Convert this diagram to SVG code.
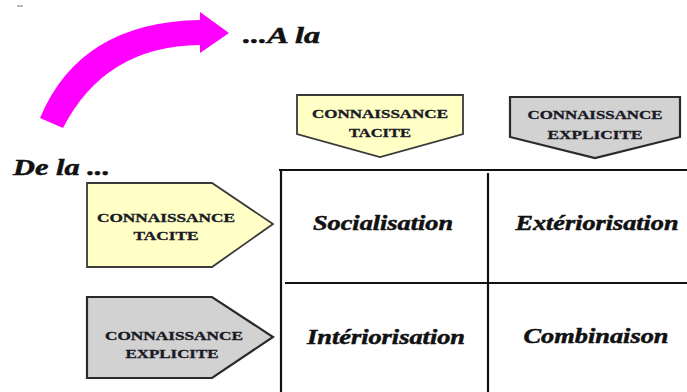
<svg xmlns="http://www.w3.org/2000/svg" width="687" height="392" viewBox="0 0 687 392">
  <style>
    text { font-family: "Liberation Serif", "DejaVu Serif", serif; font-weight: bold; }
    .lbl { font-size: 12.5px; fill: #1a1a26; stroke: #1a1a26; stroke-width: 0.35; text-anchor: middle; }
    .big { font-style: italic; fill: #111; stroke: #111; stroke-width: 0.5; }
    .cell { font-size: 21px; text-anchor: middle; }
    .tacit { fill: #ffffc6; stroke: #3a3a3a; stroke-width: 1.8; }
    .explicit { fill: #d2d2d2; stroke: #2a2a2a; stroke-width: 2.2; }
    .grid { stroke: #111; stroke-width: 2.2; fill: none; }
  </style>

  <!-- small dash mark -->
  <line x1="17" y1="6" x2="23" y2="6" stroke="#888" stroke-width="1.2"/>

  <!-- curved direction arrow -->
  <g id="arrow">
    <path d="M40,118 Q80,22 200,20 L200,12 L229,33 L200,53 L200,45 Q105,46 63,128 Z" fill="#ff00ff"/>
  </g>

  <text id="to-label" class="big" x="243" y="43" font-size="23" textLength="77" lengthAdjust="spacingAndGlyphs">...A la</text>
  <text id="from-label" class="big" x="13" y="175" font-size="23" textLength="97" lengthAdjust="spacingAndGlyphs">De la ...</text>

  <!-- column headers -->
  <g id="col-tacit">
    <polygon class="tacit" points="297,95 463,95 463,134 380,157 297,134"/>
    <text class="lbl" x="380" y="118" textLength="136" lengthAdjust="spacingAndGlyphs">CONNAISSANCE</text>
    <text class="lbl" x="380" y="137" textLength="62" lengthAdjust="spacingAndGlyphs">TACITE</text>
  </g>
  <g id="col-explicit">
    <polygon class="explicit" points="510,97 680,97 680,137 595,158 510,137"/>
    <text class="lbl" x="595" y="119" textLength="135" lengthAdjust="spacingAndGlyphs">CONNAISSANCE</text>
    <text class="lbl" x="595" y="139" textLength="95" lengthAdjust="spacingAndGlyphs">EXPLICITE</text>
  </g>

  <!-- row headers -->
  <g id="row-tacit">
    <polygon class="tacit" points="87,183 212,183 273,224 212,267 87,267"/>
    <text class="lbl" x="166" y="222" textLength="138" lengthAdjust="spacingAndGlyphs">CONNAISSANCE</text>
    <text class="lbl" x="166" y="240" textLength="65" lengthAdjust="spacingAndGlyphs">TACITE</text>
  </g>
  <g id="row-explicit">
    <polygon class="explicit" points="87,297 212,297 273,337 212,378 87,378"/>
    <text class="lbl" x="174" y="340" textLength="138" lengthAdjust="spacingAndGlyphs">CONNAISSANCE</text>
    <text class="lbl" x="172" y="358" textLength="93" lengthAdjust="spacingAndGlyphs">EXPLICITE</text>
  </g>

  <!-- matrix grid -->
  <g id="grid">
    <line class="grid" x1="279" y1="170" x2="687" y2="170" stroke="#444"/>
    <line class="grid" x1="281" y1="169" x2="281" y2="392"/>
    <line class="grid" x1="488" y1="173" x2="488" y2="392"/>
    <line class="grid" x1="285" y1="283" x2="687" y2="283"/>
  </g>

  <g id="cell-socialisation">
    <text class="big cell" x="383" y="230" textLength="140" lengthAdjust="spacingAndGlyphs">Socialisation</text>
  </g>
  <g id="cell-exteriorisation">
    <text class="big cell" x="597" y="230" textLength="163" lengthAdjust="spacingAndGlyphs">Extériorisation</text>
  </g>
  <g id="cell-interiorisation">
    <text class="big cell" x="386" y="344" textLength="158" lengthAdjust="spacingAndGlyphs">Intériorisation</text>
  </g>
  <g id="cell-combinaison">
    <text class="big cell" x="596" y="343" textLength="145" lengthAdjust="spacingAndGlyphs">Combinaison</text>
  </g>
</svg>
